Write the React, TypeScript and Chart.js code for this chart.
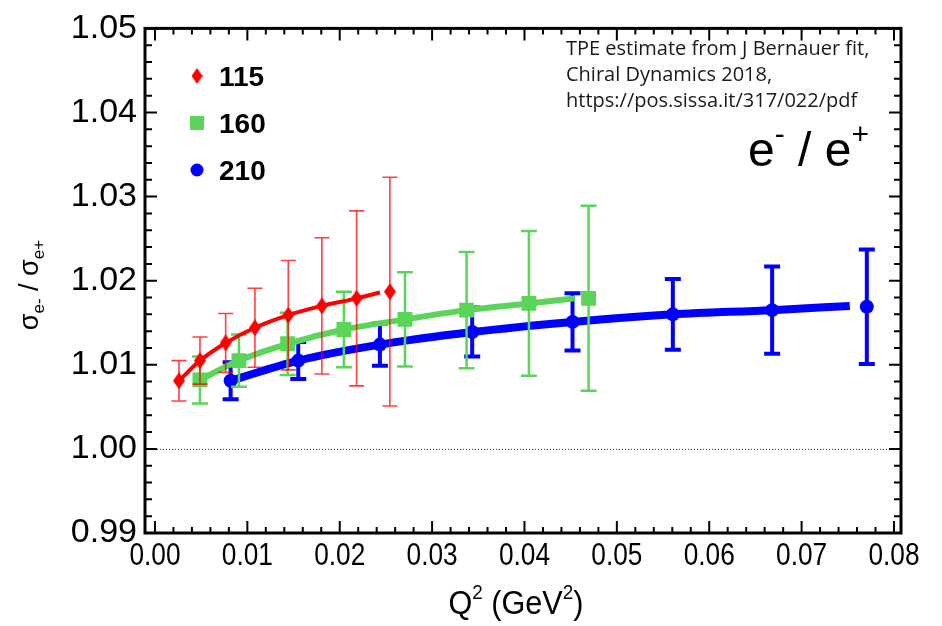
import React, { useEffect, useRef } from "react";
import { Chart, registerables } from "chart.js";

Chart.register(...registerables);

// ---------------- data ----------------
const X_MIN = -0.00108;
const X_MAX = 0.08076;
const Y_MIN = 0.99;
const Y_MAX = 1.05;
const xMajorTicks = [0, 0.01, 0.02, 0.03, 0.04, 0.05, 0.06, 0.07, 0.08];
const yMajorTicks = [0.99, 1.0, 1.01, 1.02, 1.03, 1.04, 1.05];
const legendLabels = ["115", "160", "210"];
const noteLines = [
  "TPE estimate from J Bernauer fit,",
  "Chiral Dynamics 2018,",
  "https://pos.sissa.it/317/022/pdf",
];

// 115 MeV
const q2_115 = [0.0026, 0.00487, 0.00765, 0.01082, 0.01443, 0.01807, 0.02183, 0.02543];
const ratio_115 = [1.0081, 1.0105, 1.0126, 1.0144, 1.0159, 1.017, 1.0179, 1.0187];
const err_115 = [0.0024, 0.0028, 0.0035, 0.0047, 0.0065, 0.0081, 0.0104, 0.0136];
const fitQ2_115 = [0.0026, 0.00487, 0.00765, 0.01082, 0.01443, 0.01807, 0.02183, 0.02435];
const fitR_115 = [1.0081, 1.0105, 1.0126, 1.0144, 1.0159, 1.017, 1.0179, 1.0186];

// 160 MeV
const q2_160 = [0.00487, 0.00909, 0.01436, 0.02045, 0.02706, 0.03373, 0.04048, 0.04694];
const ratio_160 = [1.0082, 1.0105, 1.0125, 1.0142, 1.0154, 1.0165, 1.0173, 1.0179];
const err_160 = [0.0028, 0.0031, 0.0037, 0.0045, 0.0056, 0.0069, 0.0086, 0.011];
const fitQ2_160 = [0.00487, 0.00909, 0.01436, 0.02045, 0.02706, 0.03373, 0.04048, 0.04545];
const fitR_160 = [1.0082, 1.0105, 1.0125, 1.0142, 1.0154, 1.0165, 1.0173, 1.0179];

// 210 MeV
const q2_210 = [0.00819, 0.01551, 0.02435, 0.03434, 0.0452, 0.05606, 0.06681, 0.07706];
const ratio_210 = [1.0081, 1.0105, 1.0124, 1.0139, 1.0151, 1.016, 1.0165, 1.0169];
const err_210 = [0.0022, 0.0022, 0.0025, 0.0029, 0.0034, 0.0042, 0.0052, 0.0068];
const fitQ2_210 = [0.00819, 0.01551, 0.02435, 0.03434, 0.0452, 0.05606, 0.06681, 0.07522];
const fitR_210 = [1.0081, 1.0105, 1.0124, 1.0139, 1.0151, 1.016, 1.0165, 1.017];

// ---------------- styles ----------------
const RED = "#ff0000";
const GREEN = "#5ad55a";
const BLUE = "#0000ff";
const SANS = "'Liberation Sans', Arial, Helvetica, sans-serif";
const NOTE_FONT = "'Open Sans', 'Noto Sans', sans-serif";

const pts = (xs: number[], ys: number[]) => xs.map((x, i) => ({ x, y: ys[i] }));

function makeDiamond(w: number, h: number, color: string) {
  const c = document.createElement("canvas");
  c.width = w;
  c.height = h;
  const g = c.getContext("2d")!;
  g.fillStyle = color;
  g.beginPath();
  g.moveTo(w / 2, 0);
  g.lineTo(w, h / 2);
  g.lineTo(w / 2, h);
  g.lineTo(0, h / 2);
  g.closePath();
  g.fill();
  return c;
}

type Part = { t: string; size: number; dy: number; bold?: boolean; family?: string };

function drawRich(
  ctx: CanvasRenderingContext2D,
  parts: Part[],
  cx: number,
  baseY: number,
  align: "center" | "left",
  sx = 1
) {
  let total = 0;
  const widths = parts.map((p) => {
    ctx.font = `${p.bold ? "bold " : ""}${p.size}px ${p.family || SANS}`;
    const w = ctx.measureText(p.t).width;
    total += w;
    return w;
  });
  ctx.save();
  ctx.translate(align === "center" ? cx - (total * sx) / 2 : cx, baseY);
  ctx.scale(sx, 1);
  let x = 0;
  ctx.textAlign = "left";
  ctx.textBaseline = "alphabetic";
  parts.forEach((p, i) => {
    ctx.font = `${p.bold ? "bold " : ""}${p.size}px ${p.family || SANS}`;
    ctx.fillText(p.t, x, p.dy);
    x += widths[i];
  });
  ctx.restore();
}

const errorBarPlugin = {
  id: "errorBars",
  beforeDatasetDraw(chart: any, args: any) {
    const ds = chart.data.datasets[args.index];
    if (!ds.errors) return;
    const ctx = chart.ctx as CanvasRenderingContext2D;
    const xs = chart.scales.x;
    const ys = chart.scales.y;
    ctx.save();
    ctx.strokeStyle = ds.errColor;
    ctx.lineWidth = ds.errWidth;
    ctx.lineCap = "butt";
    ds.data.forEach((p: any, i: number) => {
      const px = xs.getPixelForValue(p.x);
      const yt = ys.getPixelForValue(p.y + ds.errors[i]);
      const yb = ys.getPixelForValue(p.y - ds.errors[i]);
      const hw = ds.capHalf;
      ctx.beginPath();
      ctx.moveTo(px, yt);
      ctx.lineTo(px, yb);
      ctx.moveTo(px - hw, yt);
      ctx.lineTo(px + hw, yt);
      ctx.moveTo(px - hw, yb);
      ctx.lineTo(px + hw, yb);
      ctx.stroke();
    });
    ctx.restore();
  },
};

const decorPlugin = {
  id: "decor",
  beforeDatasetsDraw(chart: any) {
    const ctx = chart.ctx as CanvasRenderingContext2D;
    const xs = chart.scales.x;
    const ys = chart.scales.y;
    const y1 = ys.getPixelForValue(1.0);
    ctx.save();
    ctx.strokeStyle = "#333";
    ctx.lineWidth = 1;
    ctx.setLineDash([1, 2]);
    ctx.beginPath();
    ctx.moveTo(xs.left, y1 + 0.5);
    ctx.lineTo(xs.right, y1 + 0.5);
    ctx.stroke();
    ctx.restore();
  },
  afterDraw(chart: any) {
    const ctx = chart.ctx as CanvasRenderingContext2D;
    const xs = chart.scales.x;
    const ys = chart.scales.y;
    const { left, right, top, bottom } = chart.chartArea;
    ctx.save();
    ctx.strokeStyle = "#000";
    ctx.fillStyle = "#000";
    // ticks
    ctx.lineWidth = 2;
    ctx.beginPath();
    const xStep = 0.002;
    for (let k = 0; k <= 40; k++) {
      const v = k * xStep;
      if (v < X_MIN || v > X_MAX) continue;
      const px = xs.getPixelForValue(v);
      const len = k % 5 === 0 ? 12 : 6;
      ctx.moveTo(px, bottom);
      ctx.lineTo(px, bottom - len);
      ctx.moveTo(px, top);
      ctx.lineTo(px, top + len);
    }
    for (let k = 0; k <= 30; k++) {
      const v = Y_MIN + k * 0.002;
      const py = ys.getPixelForValue(v);
      const len = k % 5 === 0 ? 12 : 7;
      ctx.moveTo(left, py);
      ctx.lineTo(left + len, py);
      ctx.moveTo(right, py);
      ctx.lineTo(right - len, py);
    }
    ctx.stroke();
    // frame
    ctx.lineWidth = 3;
    ctx.strokeRect(left, top, right - left, bottom - top);

    // x tick labels (condensed)
    ctx.fillStyle = "#000";
    xMajorTicks.forEach((v) => {
      const px = xs.getPixelForValue(v);
      drawRich(ctx, [{ t: v.toFixed(2), size: 32, dy: 0 }], px, 565, "center", 0.82);
    });

    // x title
    drawRich(
      ctx,
      [
        { t: "Q", size: 34, dy: 0 },
        { t: "2", size: 21, dy: -15 },
        { t: " (GeV", size: 34, dy: 0 },
        { t: "2", size: 21, dy: -15 },
        { t: ")", size: 34, dy: 0 },
      ],
      516,
      614,
      "center",
      0.9
    );

    // y title (rotated)
    ctx.save();
    ctx.translate(38, 285);
    ctx.rotate(-Math.PI / 2);
    drawRich(
      ctx,
      [
        { t: "σ", size: 27, dy: 0 },
        { t: "e-", size: 17, dy: 6 },
        { t: " / ", size: 27, dy: 0 },
        { t: "σ", size: 27, dy: 0 },
        { t: "e+", size: 17, dy: 6 },
      ],
      0,
      0,
      "center"
    );
    ctx.restore();

    // legend
    const legendY = [76, 123, 170];
    const diamond = makeDiamond(11, 16, RED);
    ctx.drawImage(diamond, 197 - 5.5, legendY[0] - 8);
    ctx.fillStyle = GREEN;
    ctx.fillRect(190, legendY[1] - 7, 14, 14);
    ctx.fillStyle = BLUE;
    ctx.beginPath();
    ctx.arc(197, legendY[2], 6.5, 0, Math.PI * 2);
    ctx.fill();
    ctx.fillStyle = "#000";
    legendLabels.forEach((lab, i) => {
      drawRich(ctx, [{ t: lab, size: 28, dy: 0, bold: true }], 219, legendY[i] + 10, "left");
    });

    // note
    ctx.fillStyle = "#1a1a1a";
    noteLines.forEach((ln, i) => {
      drawRich(ctx, [{ t: ln, size: 20, dy: 0, family: NOTE_FONT }], 566, 55 + i * 26, "left");
    });

    // e- / e+
    ctx.fillStyle = "#000";
    drawRich(
      ctx,
      [
        { t: "e", size: 48, dy: 0 },
        { t: "-", size: 30, dy: -22 },
        { t: " / e", size: 48, dy: 0 },
        { t: "+", size: 30, dy: -22 },
      ],
      748,
      166,
      "left"
    );
    ctx.restore();
  },
};

export default function App() {
  const ref = useRef<HTMLCanvasElement | null>(null);

  useEffect(() => {
    if (!ref.current) return;
    const diamond = makeDiamond(12, 17, RED);
    const lineDs = (xs: number[], ys: number[], color: string, w: number, order: number) => ({
      type: "scatter" as const,
      data: pts(xs, ys),
      showLine: true,
      borderColor: color,
      borderWidth: w,
      pointRadius: 0,
      cubicInterpolationMode: "monotone" as const,
      fill: false,
      order,
    });
    const chart = new Chart(ref.current, {
      type: "scatter",
      data: {
        datasets: [
          lineDs(fitQ2_210, fitR_210, BLUE, 8, 60),
          {
            data: pts(q2_210, ratio_210),
            backgroundColor: BLUE,
            borderWidth: 0,
            pointStyle: "circle",
            pointRadius: 7,
            order: 50,
            errors: err_210,
            errColor: BLUE,
            errWidth: 4,
            capHalf: 8,
          } as any,
          lineDs(fitQ2_160, fitR_160, GREEN, 6, 40),
          {
            data: pts(q2_160, ratio_160),
            backgroundColor: GREEN,
            borderWidth: 0,
            pointStyle: "rect",
            pointRadius: 10.5,
            order: 30,
            errors: err_160,
            errColor: GREEN,
            errWidth: 2.5,
            capHalf: 8,
          } as any,
          lineDs(fitQ2_115, fitR_115, RED, 4, 20),
          {
            data: pts(q2_115, ratio_115),
            backgroundColor: RED,
            borderWidth: 0,
            pointStyle: diamond,
            pointRadius: 8,
            order: 10,
            errors: err_115,
            errColor: "rgba(255,0,0,0.75)",
            errWidth: 1.6,
            capHalf: 7.5,
          } as any,
        ],
      },
      options: {
        responsive: false,
        animation: false,
        events: [],
        layout: { padding: { left: 0, top: 19, right: 41, bottom: 0 } },
        plugins: { legend: { display: false }, tooltip: { enabled: false } },
        scales: {
          x: {
            type: "linear",
            min: X_MIN,
            max: X_MAX,
            afterFit: (s: any) => {
              s.height = 93;
            },
            afterBuildTicks: (s: any) => {
              s.ticks = xMajorTicks.map((v) => ({ value: v }));
            },
            grid: { display: false, drawTicks: false, tickLength: 0 },
            border: { display: false },
            ticks: { display: false },
          },
          y: {
            type: "linear",
            min: Y_MIN,
            max: Y_MAX,
            afterFit: (s: any) => {
              s.width = 145;
            },
            afterBuildTicks: (s: any) => {
              s.ticks = yMajorTicks.map((v) => ({ value: v }));
            },
            grid: { display: false, drawTicks: false, tickLength: 0 },
            border: { display: false },
            ticks: {
              autoSkip: false,
              padding: 8,
              color: "#000",
              font: { family: SANS, size: 34 },
              callback: (v: any) => Number(v).toFixed(2),
            },
          },
        },
      },
      plugins: [errorBarPlugin, decorPlugin],
    });
    return () => chart.destroy();
  }, []);

  return (
    <div style={{ position: "absolute", left: 0, top: 0, width: 942, height: 626, background: "#fff" }}>
      <canvas ref={ref} width={942} height={626} style={{ display: "block" }} />
    </div>
  );
}
